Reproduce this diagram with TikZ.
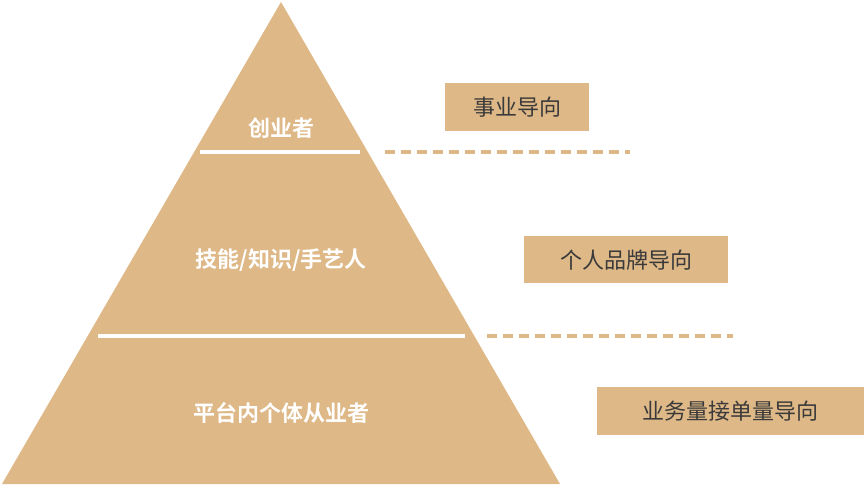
\documentclass[tikz,border=0pt]{standalone}
\usepackage{fontspec}
\setmainfont{Noto Sans CJK SC}
\newfontfamily\cjkb{Noto Sans CJK SC Bold}
\definecolor{tan}{HTML}{DEB887}
\definecolor{txt}{HTML}{3A3A3A}
\begin{document}
\begin{tikzpicture}[x=1pt,y=-1pt,
  lbl/.style={text=white,font=\cjkb\fontsize{22}{24}\selectfont},
  box/.style={fill=tan,text=txt,font=\fontsize{22}{24}\selectfont,inner sep=0pt,anchor=north west},
  dashline/.style={tan,line width=3.5pt,dash pattern=on 10pt off 6pt},
  sep/.style={white,line width=3.5pt}]
\useasboundingbox (0,0) rectangle (867,485);
\fill[tan] (281,2) -- (560,484) -- (2,484) -- cycle;
\draw[sep] (200,152) -- (360,152);
\draw[sep] (98,336) -- (465,336);
\coordinate (d1a) at (385,152); \coordinate (d1b) at (630,152);
\coordinate (d2a) at (487,336); \coordinate (d2b) at (733,336);
\draw[dashline] (d1a) -- (d1b);
\draw[dashline] (d2a) -- (d2b);
\node[lbl] (l1) at (281,128) {创业者};
\node[lbl] (l2) at (281,260) {技能/知识/手艺人};
\node[lbl] (l3) at (281,413) {平台内个体从业者};
\node[box,minimum width=144pt,minimum height=48pt] (b1) at (445,83) {事业导向};
\node[box,minimum width=204pt,minimum height=47pt] (b2) at (524,236) {个人品牌导向};
\node[box,minimum width=267pt,minimum height=48pt] (b3) at (597,387) {业务量接单量导向};
\end{tikzpicture}
\end{document}
